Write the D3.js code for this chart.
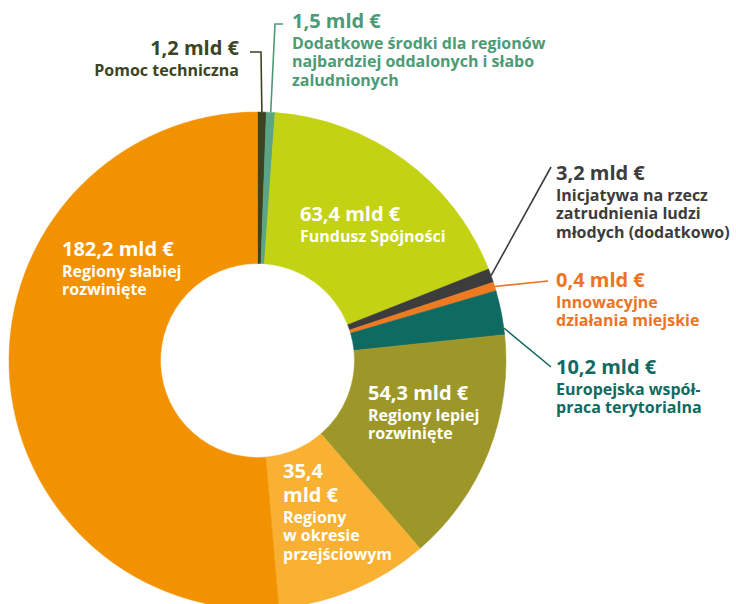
<!DOCTYPE html>
<html><head><meta charset="utf-8">
<script src="https://cdn.jsdelivr.net/npm/d3@7"></script>
<style>
body{margin:0;background:#fff}
svg{display:block}
text{font-family:"Open Sans",sans-serif;font-weight:700}
</style>
</head><body>
<svg id="chart" width="736" height="604"></svg>
<script>
// ---- data ----
const categories = [
  "Pomoc techniczna",
  "Dodatkowe środki dla regionów najbardziej oddalonych i słabo zaludnionych",
  "Fundusz Spójności",
  "Inicjatywa na rzecz zatrudnienia ludzi młodych (dodatkowo)",
  "Innowacyjne działania miejskie",
  "Europejska współpraca terytorialna",
  "Regiony lepiej rozwinięte",
  "Regiony w okresie przejściowym",
  "Regiony słabiej rozwinięte"
];
const values = [1.2, 1.5, 63.4, 3.2, 0.4, 10.2, 54.3, 35.4, 182.2];
const valueLabels = [
  ["1,2 mld €"], ["1,5 mld €"], ["63,4 mld €"], ["3,2 mld €"], ["0,4 mld €"],
  ["10,2 mld €"], ["54,3 mld €"], ["35,4", "mld €"], ["182,2 mld €"]
];
const subLabels = [
  ["Pomoc techniczna"],
  ["Dodatkowe środki dla regionów", "najbardziej oddalonych i słabo", "zaludnionych"],
  ["Fundusz Spójności"],
  ["Inicjatywa na rzecz", "zatrudnienia ludzi", "młodych (dodatkowo)"],
  ["Innowacyjne", "działania miejskie"],
  ["Europejska współ-", "praca terytorialna"],
  ["Regiony lepiej", "rozwinięte"],
  ["Regiony", "w okresie", "przejściowym"],
  ["Regiony słabiej", "rozwinięte"]
];
const sliceColors = ["#3b4320", "#5aa585", "#c3d212", "#3c3c3c", "#ef7a1f", "#0f6a61", "#9d972a", "#f8b133", "#f29200"];
const labelColors = ["#3b4521", "#4c9b76", "#ffffff", "#3c3c3c", "#ec7424", "#0f6a61", "#ffffff", "#ffffff", "#ffffff"];
const leaderColors = ["#3b4521", "#4c9b76", null, "#3c3c3c", "#ec7424", "#0f6a61", null, null, null];

// ---- layout (positions/styles) ----
const cx = 257.5, cy = 360.5, rOuter = 248.5, rInner = 97;
const minDisplay = 2; // thin slices drawn with a visible minimum width
const labelPos = [
  {x: 239, y: 55, anchor: "end"},
  {x: 292, y: 28, anchor: "start"},
  {x: 300, y: 221, anchor: "start"},
  {x: 556, y: 180, anchor: "start"},
  {x: 556, y: 287, anchor: "start"},
  {x: 556, y: 374, anchor: "start"},
  {x: 368, y: 400, anchor: "start"},
  {x: 283, y: 478, anchor: "start"},
  {x: 62, y: 256, anchor: "start"}
];
const leaders = [
  {i: 0, t: 0.5, pts: [[261, 52], [250, 52]]},
  {i: 1, t: 0.5, pts: [[275, 24], [283, 24]]},
  {i: 3, t: 0.5, pts: [[551, 167]]},
  {i: 4, t: 0.5, pts: [[548, 281]]},
  {i: 5, t: 0.85, pts: [[551, 367]]}
];

const svg = d3.select("#chart");
const g = svg.append("g").attr("transform", `translate(${cx},${cy})`);

const pie = d3.pie().sort(null).value((d, i) => Math.max(values[i], minDisplay));
const arcs = pie(values);
const arc = d3.arc().innerRadius(rInner).outerRadius(rOuter);

g.selectAll("path.slice").data(arcs).enter().append("path")
  .attr("class", "slice")
  .attr("d", arc)
  .attr("fill", (d, i) => sliceColors[i])
  .attr("stroke", (d, i) => sliceColors[i])
  .attr("stroke-width", 0.5);

// leader lines
leaders.forEach(L => {
  const a = arcs[L.i];
  const ang = a.startAngle + (a.endAngle - a.startAngle) * L.t;
  const start = [cx + rOuter * Math.sin(ang), cy - rOuter * Math.cos(ang)];
  svg.append("path")
    .attr("d", d3.line()([start, ...L.pts]))
    .attr("fill", "none")
    .attr("stroke", leaderColors[L.i])
    .attr("stroke-width", 1.6);
});

// labels
labelPos.forEach((p, i) => {
  const t = svg.append("text")
    .attr("text-anchor", p.anchor)
    .attr("fill", labelColors[i]);
  let y = p.y;
  valueLabels[i].forEach((s, k) => {
    if (k > 0) y += 24;
    t.append("tspan").attr("x", p.x).attr("y", y)
      .style("font-size", "20px").text(s);
  });
  y += 20.5;
  subLabels[i].forEach((s, k) => {
    if (k > 0) y += 18.7;
    t.append("tspan").attr("x", p.x).attr("y", y)
      .style("font-size", "16px").text(s);
  });
});
</script>
</body></html>
